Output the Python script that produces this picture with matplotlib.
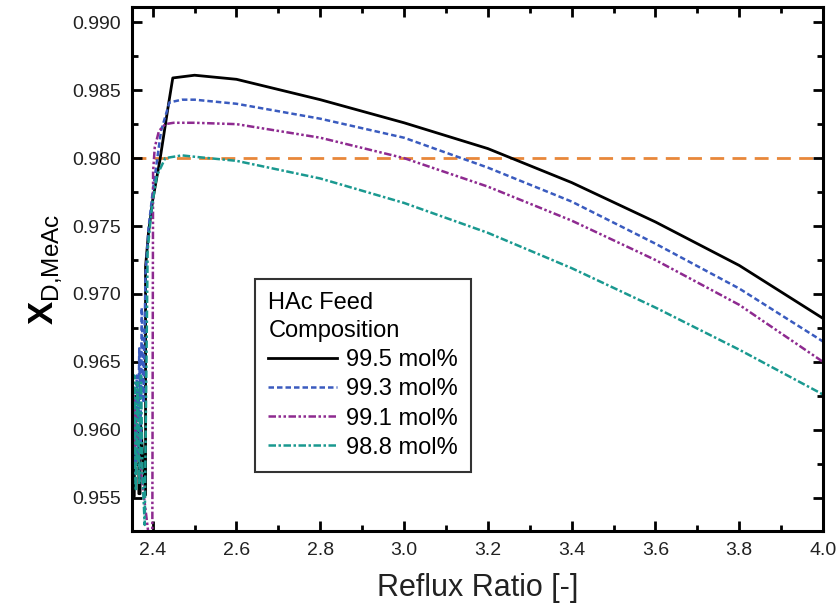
import numpy as np
import matplotlib
matplotlib.use('Agg')
import matplotlib.pyplot as plt
from matplotlib.ticker import MultipleLocator

plt.rcParams['font.family'] = ['Liberation Sans', 'DejaVu Sans']
plt.rcParams['mathtext.fontset'] = 'custom'
plt.rcParams['mathtext.rm'] = 'Liberation Sans'
plt.rcParams['mathtext.bf'] = 'Liberation Sans:bold'
plt.rcParams['axes.linewidth'] = 2.2

# reflux ratio / distillate MeAc mole fraction
x_995 = [2.352, 2.352, 2.356, 2.357, 2.367, 2.367, 2.370, 2.370, 2.383, 2.383,
         2.390, 2.400, 2.417, 2.438, 2.448, 2.50, 2.60, 2.80, 3.00, 3.20,
         3.40, 3.60, 3.80, 4.00]
y_995 = [0.9598, 0.9551, 0.9551, 0.9600, 0.9600, 0.9553, 0.9553, 0.9610, 0.9552, 0.9720,
         0.9745, 0.9769, 0.9798, 0.9840, 0.9859, 0.9861, 0.9858, 0.9843, 0.9826, 0.9807,
         0.9782, 0.9753, 0.9721, 0.9682]

x_993 = [2.353, 2.356, 2.359, 2.362, 2.365, 2.368, 2.371, 2.374, 2.378, 2.383,
         2.390, 2.400, 2.420, 2.440, 2.47, 2.50, 2.60, 2.80, 3.00, 3.20,
         3.40, 3.60, 3.80, 4.00]
y_993 = [0.9560, 0.9620, 0.9575, 0.9640, 0.9580, 0.9660, 0.9590, 0.9690, 0.9620, 0.9715,
         0.9748, 0.9775, 0.9820, 0.9841, 0.9843, 0.9843, 0.9840, 0.9829, 0.9815, 0.9793,
         0.9768, 0.9737, 0.9704, 0.9665]

x_991 = [2.352, 2.355, 2.358, 2.361, 2.364, 2.399, 2.401, 2.405, 2.415, 2.430,
         2.45, 2.50, 2.60, 2.80, 3.00, 3.20, 3.40, 3.60, 3.80, 4.00]
y_991 = [0.9580, 0.9625, 0.9585, 0.9615, 0.9590, 0.9500, 0.9790, 0.9808, 0.9820, 0.9825,
         0.9826, 0.9826, 0.9825, 0.9815, 0.9800, 0.9779, 0.9754, 0.9725, 0.9692, 0.9650]

x_988 = [2.353, 2.356, 2.360, 2.364, 2.368, 2.372, 2.376, 2.381, 2.388, 2.395,
         2.400, 2.410, 2.430, 2.47, 2.50, 2.60, 2.80, 3.00, 3.20, 3.40,
         3.60, 3.80, 4.00]
y_988 = [0.9560, 0.9640, 0.9555, 0.9635, 0.9560, 0.9640, 0.9565, 0.9530, 0.9732, 0.9755,
         0.9768, 0.9787, 0.9800, 0.9802, 0.9801, 0.9798, 0.9785, 0.9767, 0.9745, 0.9719,
         0.9690, 0.9659, 0.9626]

spec = 0.980
labels = ['99.5 mol%', '99.3 mol%', '99.1 mol%', '98.8 mol%']

fig, ax = plt.subplots(figsize=(8.39, 6.08), dpi=100)
fig.subplots_adjust(left=0.157, right=0.981, top=0.988, bottom=0.127)

ax.axhline(spec, color='#e8873a', lw=2, dashes=(5, 3), zorder=1)
ax.plot(x_995, y_995, color='black', lw=2, label=labels[0])
ax.plot(x_993, y_993, color='#3a5bbf', lw=1.8, dashes=(2.2, 1.2), label=labels[1])
ax.plot(x_991, y_991, color='#8e2a90', lw=1.8, dashes=(3, 1, 1, 1, 1, 1), label=labels[2])
ax.plot(x_988, y_988, color='#1a9990', lw=1.8, dashes=(3, 1, 1, 1), label=labels[3])

ax.set_xlim(2.35, 4.0)
ax.set_ylim(0.95257, 0.9911)
ax.xaxis.set_major_locator(MultipleLocator(0.2))
ax.xaxis.set_minor_locator(MultipleLocator(0.1))
ax.yaxis.set_major_locator(MultipleLocator(0.005))
ax.yaxis.set_minor_locator(MultipleLocator(0.0025))
ax.xaxis.set_major_formatter(plt.FormatStrFormatter('%.1f'))
ax.yaxis.set_major_formatter(plt.FormatStrFormatter('%.3f'))
ax.tick_params(which='both', direction='in', top=True, right=True, width=2,
               labelsize=14, pad=8, labelcolor='#222222')
ax.tick_params(which='major', length=7)
ax.tick_params(which='minor', length=4)

ax.set_xlabel('Reflux Ratio [-]', fontsize=22, labelpad=10, color='#222222')
ax.set_ylabel(r'$\mathbf{X}_{\mathrm{D{,}MeAc}}$', fontsize=25, labelpad=6)

leg = ax.legend(title='HAc Feed\nComposition', loc='lower left', bbox_to_anchor=(0.179, 0.113),
                borderaxespad=0, fontsize=17, title_fontsize=17, alignment='left',
                frameon=True, fancybox=False, edgecolor='black', handlelength=2.9,
                handletextpad=0.4, labelspacing=0.3, borderpad=0.55)
leg.get_frame().set_linewidth(1.5)
leg._legend_title_box._text.set_linespacing(1.35)

fig.savefig('out.png', dpi=100)
